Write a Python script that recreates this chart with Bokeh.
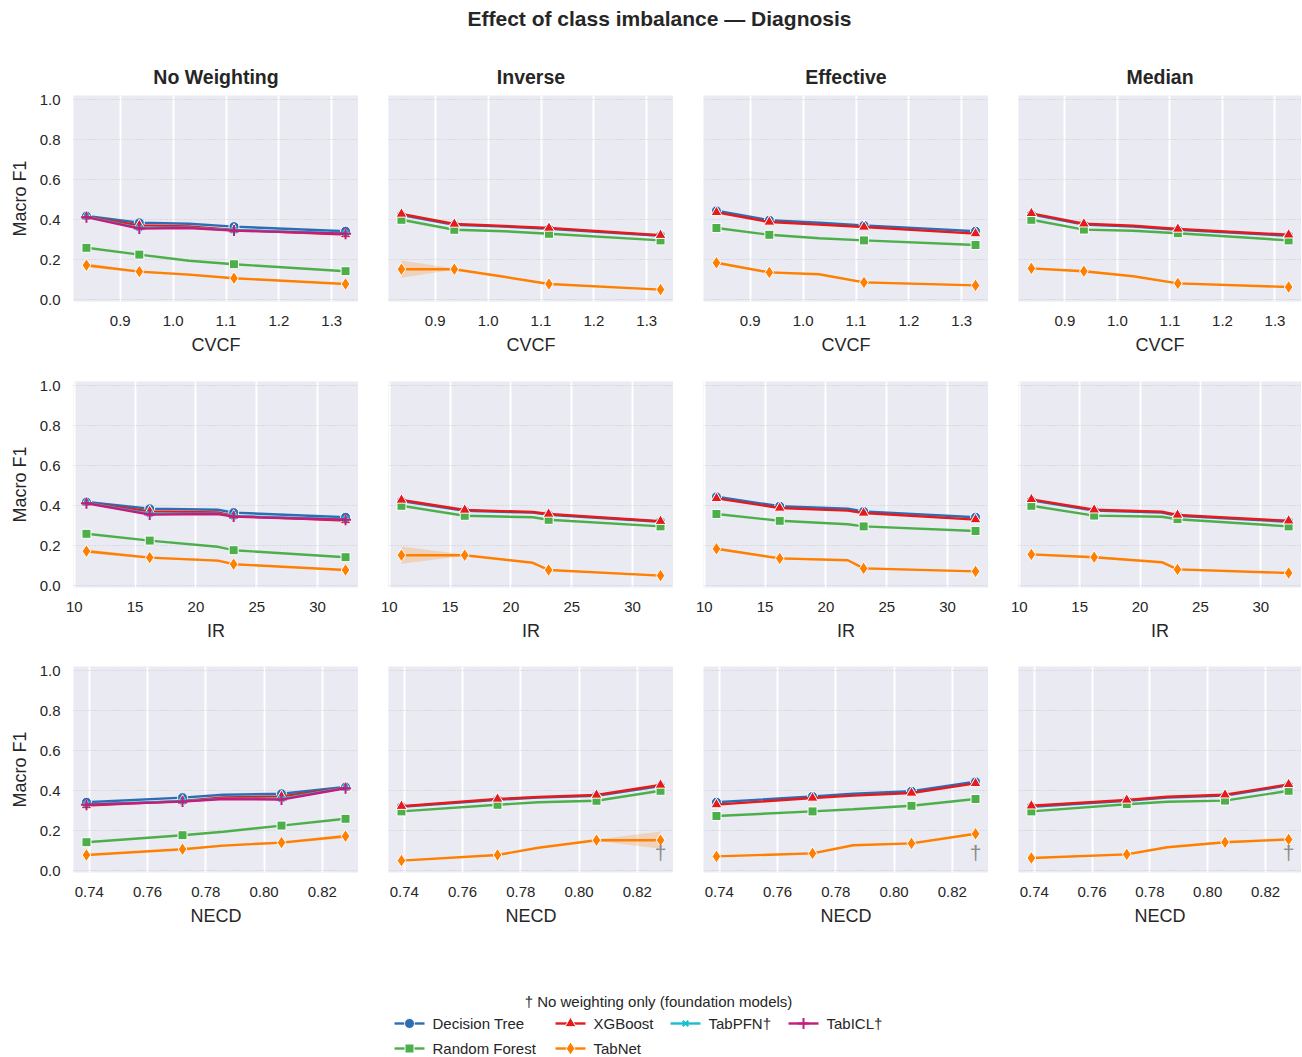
from bokeh.plotting import figure
from bokeh.layouts import column, row
from bokeh.models import Range1d, FixedTicker, PrintfTickFormatter, Label
from bokeh.embed import file_html
from bokeh.resources import INLINE

FONT = "Liberation Sans"
TXT = "#262626"

SUPTITLE = "Effect of class imbalance \u2014 Diagnosis"
WEIGHTINGS = ["No Weighting", "Inverse", "Effective", "Median"]
METRICS = ["CVCF", "IR", "NECD"]
Y_LABEL = "Macro F1"
MODELS = ["Decision Tree", "Random Forest", "XGBoost", "TabNet", "TabPFN\u2020", "TabICL\u2020"]
LEGEND_TITLE = "\u2020 No weighting only (foundation models)"
DAGGER = "\u2020"

# five datasets, same order in every array
CVCF = [0.836, 0.936, 1.030, 1.115, 1.326]
IR = [11.0, 16.2, 21.8, 23.1, 32.3]
NECD = [0.828, 0.806, 0.786, 0.772, 0.739]
MARKED = [True, True, False, True, True]

Y_TICKS = [0.0, 0.2, 0.4, 0.6, 0.8, 1.0]
CVCF_TICKS = [0.9, 1.0, 1.1, 1.2, 1.3]
IR_TICKS = [10, 15, 20, 25, 30]
NECD_TICKS = [0.74, 0.76, 0.78, 0.80, 0.82]

# No Weighting
NW_DT = [0.419, 0.385, 0.380, 0.366, 0.343]
NW_RF = [0.260, 0.226, 0.195, 0.178, 0.143]
NW_XGB = [0.415, 0.372, 0.367, 0.349, 0.326]
NW_TABNET = [0.173, 0.141, 0.126, 0.108, 0.079]
NW_TABPFN = [0.416, 0.360, 0.361, 0.348, 0.333]
NW_TABICL = [0.413, 0.356, 0.359, 0.346, 0.330]
NW_TABNET_CI = [0.010, 0.006, 0.006, 0.004, 0.003]
# Inverse
INV_DT = [0.424, 0.375, 0.366, 0.355, 0.320]
INV_RF = [0.400, 0.350, 0.343, 0.330, 0.297]
INV_XGB = [0.429, 0.379, 0.369, 0.359, 0.323]
INV_TABNET = [0.153, 0.153, 0.115, 0.079, 0.051]
INV_TABNET_CI = [0.043, 0.003, 0.003, 0.003, 0.003]
# Effective
EFF_DT = [0.445, 0.398, 0.385, 0.372, 0.343]
EFF_RF = [0.359, 0.325, 0.308, 0.297, 0.274]
EFF_XGB = [0.437, 0.389, 0.376, 0.364, 0.331]
EFF_TABNET = [0.185, 0.137, 0.128, 0.087, 0.072]
EFF_TABNET_CI = [0.006, 0.005, 0.004, 0.006, 0.003]
# Median
MED_DT = [0.427, 0.376, 0.366, 0.350, 0.320]
MED_RF = [0.400, 0.351, 0.345, 0.333, 0.297]
MED_XGB = [0.432, 0.380, 0.370, 0.354, 0.325]
MED_TABNET = [0.157, 0.143, 0.118, 0.082, 0.064]
MED_TABNET_CI = [0.005, 0.006, 0.004, 0.004, 0.003]

COLORS = {"Decision Tree": "#2e6db4", "Random Forest": "#4daf4a", "XGBoost": "#e41a1c",
          "TabNet": "#ff7f00", "TabPFN\u2020": "#17becf", "TabICL\u2020": "#c51b7d"}
MARKERS = {"Decision Tree": ("circle", 10), "Random Forest": ("square", 9), "XGBoost": ("triangle", 11),
           "TabNet": ("diamond", 13), "TabPFN\u2020": ("x", 8), "TabICL\u2020": ("cross", 11)}

SCORES = {
    "No Weighting": {"Decision Tree": NW_DT, "Random Forest": NW_RF, "XGBoost": NW_XGB,
                     "TabNet": NW_TABNET, "TabPFN\u2020": NW_TABPFN, "TabICL\u2020": NW_TABICL},
    "Inverse": {"Decision Tree": INV_DT, "Random Forest": INV_RF, "XGBoost": INV_XGB, "TabNet": INV_TABNET},
    "Effective": {"Decision Tree": EFF_DT, "Random Forest": EFF_RF, "XGBoost": EFF_XGB, "TabNet": EFF_TABNET},
    "Median": {"Decision Tree": MED_DT, "Random Forest": MED_RF, "XGBoost": MED_XGB, "TabNet": MED_TABNET},
}
CI = {("No Weighting", "TabNet"): NW_TABNET_CI, ("Inverse", "TabNet"): INV_TABNET_CI,
      ("Effective", "TabNet"): EFF_TABNET_CI, ("Median", "TabNet"): MED_TABNET_CI}

X_OF = {"CVCF": CVCF, "IR": IR, "NECD": NECD}
TICKS_OF = {"CVCF": CVCF_TICKS, "IR": IR_TICKS, "NECD": NECD_TICKS}
FMT_OF = {"CVCF": "%.1f", "IR": "%d", "NECD": "%.2f"}

FWS = [285, 285, 285, 283]
FH = 206
PAGE_W = 1301
TOPS = [57, 21, 21]
BOTTOMS = [59, 58, 59]


def draw_marker(p, xs, ys, model, color):
    mk, sz = MARKERS[model]
    if mk in ("x", "cross"):
        p.scatter(xs, ys, marker=mk, size=sz, line_color=color, line_width=2)
    else:
        p.scatter(xs, ys, marker=mk, size=sz, fill_color=color, line_color="white", line_width=1)


def make_panel(r, c):
    metric = METRICS[r]
    weighting = WEIGHTINGS[c]
    xv = X_OF[metric]
    lo, hi = min(xv), max(xv)
    pad = 0.05 * (hi - lo)
    xr = Range1d(lo - pad, hi + pad)
    fw = FWS[c]
    p = figure(frame_width=fw, frame_height=FH, x_range=xr, y_range=Range1d(-0.0085, 1.0215),
               min_border_left=73 if c == 0 else 30, min_border_right=0,
               min_border_top=TOPS[r], min_border_bottom=BOTTOMS[r],
               output_backend="svg", toolbar_location=None,
               background_fill_color="#eaeaf2", border_fill_color="white", outline_line_color=None,
               title=weighting if r == 0 else None)
    if r == 0:
        p.title.align = "center"
        p.title.text_font = FONT
        p.title.text_font_size = "19.5px"
        p.title.text_font_style = "bold"
        p.title.text_color = TXT
        p.title.standoff = 15
    for ax in (p.xaxis, p.yaxis):
        ax.axis_line_color = None
        ax.major_tick_line_color = None
        ax.minor_tick_line_color = None
        ax.major_tick_out = 0
        ax.major_tick_in = 0
        ax.major_label_text_font = FONT
        ax.major_label_text_font_size = "15px"
        ax.major_label_text_color = TXT
        ax.axis_label_text_font = FONT
        ax.axis_label_text_font_size = "18px"
        ax.axis_label_text_font_style = "normal"
        ax.axis_label_text_color = TXT
    p.xaxis.ticker = FixedTicker(ticks=TICKS_OF[metric])
    p.xaxis.formatter = PrintfTickFormatter(format=FMT_OF[metric])
    p.xaxis.axis_label = metric
    p.xaxis.major_label_standoff = 14
    p.xaxis.axis_label_standoff = 6
    p.yaxis.ticker = FixedTicker(ticks=Y_TICKS)
    p.yaxis.formatter = PrintfTickFormatter(format="%.1f")
    p.yaxis.major_label_standoff = 13
    p.yaxis.axis_label_standoff = 7
    if c == 0:
        p.yaxis.axis_label = Y_LABEL
    else:
        p.yaxis.visible = False
    p.xgrid.grid_line_color = "white"
    p.xgrid.grid_line_width = 2
    p.ygrid.grid_line_color = "#c8c8ce"
    p.ygrid.grid_line_width = 1
    p.ygrid.grid_line_dash = "1 2"

    order = sorted(range(len(xv)), key=lambda i: xv[i])
    for model, yv in SCORES[weighting].items():
        color = COLORS[model]
        xs = [xv[i] for i in order]
        ys = [yv[i] for i in order]
        ci = CI.get((weighting, model))
        if ci is not None:
            p.varea(x=xs, y1=[yv[i] - ci[i] for i in order], y2=[yv[i] + ci[i] for i in order],
                    fill_color=color, fill_alpha=0.22)
        p.line(xs, ys, line_color=color, line_width=2.4)
        xm = [xv[i] for i in order if MARKED[i]]
        ym = [yv[i] for i in order if MARKED[i]]
        draw_marker(p, xm, ym, model, color)

    if r == len(METRICS) - 1 and c > 0:
        span = xr.end - xr.start
        p.add_layout(Label(x=xr.end - span * 13 / fw, y=0.09, text=DAGGER, text_align="center",
                           text_baseline="middle", text_font=FONT, text_font_size="21px",
                           text_color="#8a8a8a"))
    return p


def blank(w, h):
    f = figure(width=w, height=h, x_range=Range1d(0, w), y_range=Range1d(h, 0),
               x_axis_type=None, y_axis_type=None, min_border=0,
               output_backend="svg", toolbar_location=None, outline_line_color=None,
               background_fill_color="white", border_fill_color="white")
    f.grid.visible = False
    return f


header = blank(PAGE_W, 38)
header.add_layout(Label(x=659, y=18, text=SUPTITLE, text_align="center", text_baseline="middle",
                        text_font=FONT, text_font_size="21px", text_font_style="bold", text_color=TXT))

rows = []
for r in range(len(METRICS)):
    rows.append(row(*[make_panel(r, c) for c in range(len(WEIGHTINGS))]))

leg = blank(PAGE_W, 125)
leg.add_layout(Label(x=658, y=70, text=LEGEND_TITLE, text_align="center", text_baseline="middle",
                     text_font=FONT, text_font_size="15px", text_color=TXT))
LEG_POS = {"Decision Tree": (394, 92), "Random Forest": (394, 117), "XGBoost": (555, 92),
           "TabNet": (555, 117), "TabPFN\u2020": (670, 92), "TabICL\u2020": (788, 92)}
for model in MODELS:
    x0, y0 = LEG_POS[model]
    color = COLORS[model]
    leg.line([x0, x0 + 30], [y0, y0], line_color=color, line_width=2.4)
    draw_marker(leg, [x0 + 15], [y0], model, color)
    leg.add_layout(Label(x=x0 + 38, y=y0, text=model, text_align="left", text_baseline="middle",
                         text_font=FONT, text_font_size="15px", text_color=TXT))

layout = column(header, *rows, leg)
open("out.html", "w").write(file_html(layout, INLINE))
